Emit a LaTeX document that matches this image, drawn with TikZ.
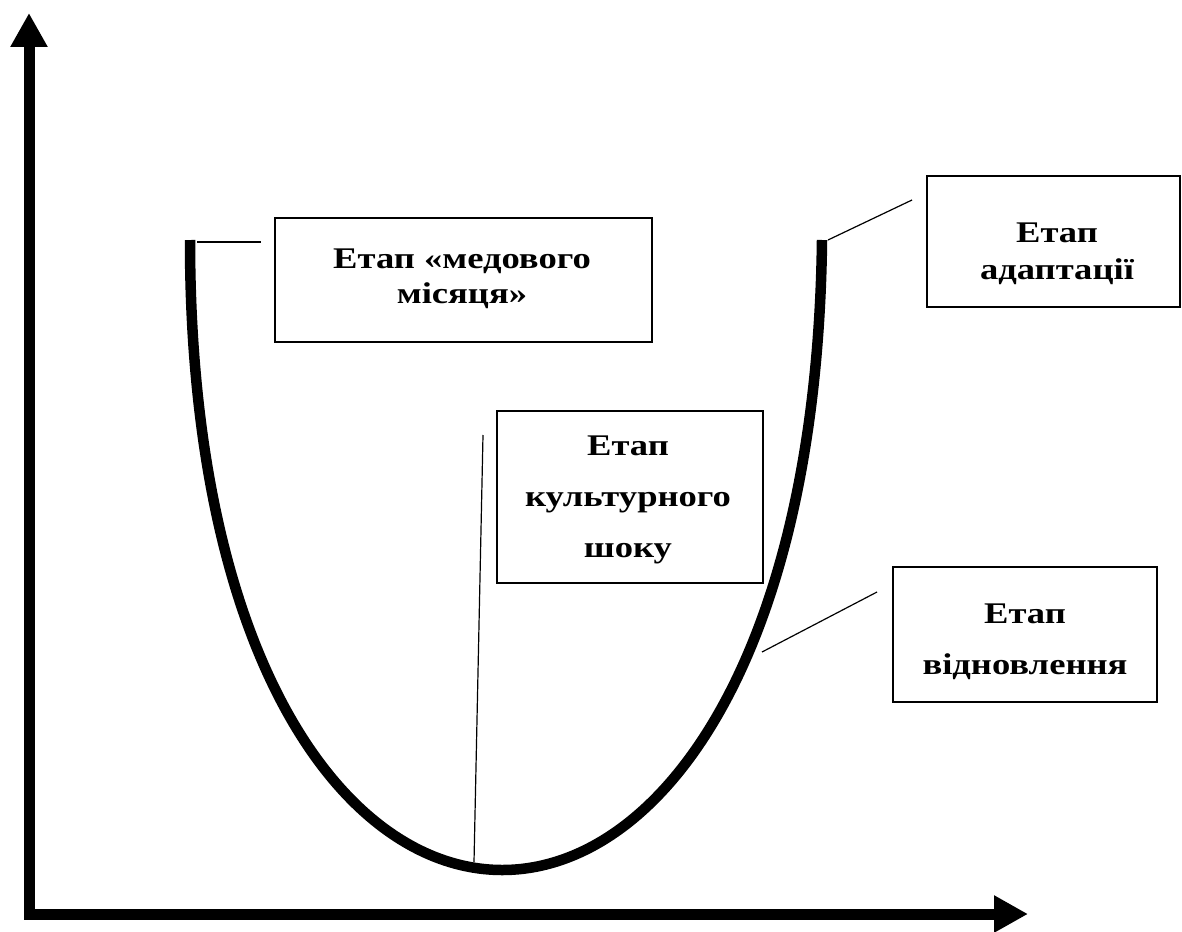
\documentclass[tikz,border=0pt]{standalone}
\usepackage{fontspec}
\setmainfont{Liberation Serif}
\newfontfamily\stagefont[FakeStretch=1.22]{Liberation Serif}
\usetikzlibrary{arrows.meta}

\tikzset{
  axis/.style={line width=11pt, line join=miter,
    {Triangle[width=35pt,length=34pt]}-{Triangle[width=35pt,length=34pt]}},
  ucurve/.style={line width=10.5pt, line cap=butt},
  stagebox/.style={draw, line width=1.4pt, rectangle, inner sep=0pt},
  stagetext/.style={align=center, inner sep=0pt,
    font=\stagefont\fontsize{30pt}{37pt}\selectfont\bfseries},
  leader/.style={line width=1.2pt},
}

\begin{document}
\begin{tikzpicture}[x=1pt,y=-1pt]
\useasboundingbox (0,0) rectangle (1182,931);

% axes
\draw[axis] (29,13) -- (29,914) -- (1028,914);

% adaptation curve
\draw[ucurve] (190,240) .. controls (190,1080) and (812,1080) .. (822,240);

% stage boxes
\node[stagebox, minimum width=377pt, minimum height=124pt] (honey) at (463.5,280) {};
\node[stagebox, minimum width=253pt, minimum height=131pt] (adapt) at (1053.5,241.5) {};
\node[stagebox, minimum width=266pt, minimum height=172pt] (shock) at (630,497) {};
\node[stagebox, minimum width=264pt, minimum height=135pt] (recov) at (1025,634.5) {};

% stage names
\node[stagetext, font=\stagefont\fontsize{30pt}{35pt}\selectfont\bfseries]
  (honeyT) at (462,279) {Етап «медового\\місяця»};
\node[stagetext] (adaptT) at (1057,254) {Етап\\адаптації};
\node[stagetext, font=\stagefont\fontsize{30pt}{51pt}\selectfont\bfseries]
  (shockT) at (628,500) {Етап\\культурного\\шоку};
\node[stagetext, font=\stagefont\fontsize{30pt}{51pt}\selectfont\bfseries]
  (recovT) at (1025,642) {Етап\\відновлення};

% leader lines from the curve towards the boxes
\coordinate (h1) at (197,242);
\coordinate (h2) at (261,242);
\coordinate (a1) at (828,240);
\coordinate (a2) at (912,200);
\coordinate (s1) at (483,435);
\coordinate (s2) at (474,862);
\coordinate (r1) at (762,652);
\coordinate (r2) at (877,592);

\draw[leader] (h1) -- (h2);
\draw[leader] (a1) -- (a2);
\draw[leader] (s1) -- (s2);
\draw[leader] (r1) -- (r2);
\end{tikzpicture}
\end{document}
